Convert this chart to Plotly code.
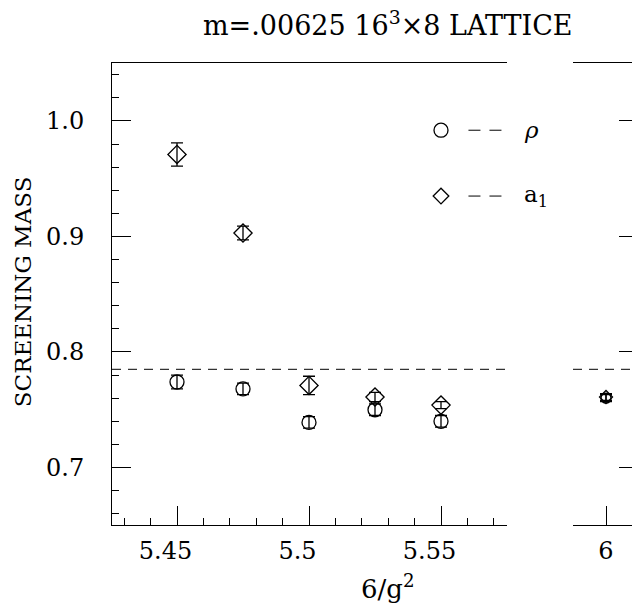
import plotly.graph_objects as go

# ---- data ----
beta = [5.45, 5.475, 5.5, 5.525, 5.55, 6.0]
rho_mass = [0.774, 0.768, 0.739, 0.750, 0.740, 0.760]
rho_err = [0.006, 0.005, 0.005, 0.005, 0.005, 0.003]
a1_mass = [0.971, 0.903, 0.771, 0.761, 0.754, 0.761]
a1_err = [0.010, 0.006, 0.008, 0.004, 0.003, 0.003]
ref_line = 0.785
title_text = "m=.00625 16<sup>3</sup>×8 LATTICE"
x_title = "6/g<sup>2</sup>"
y_title = "SCREENING MASS"
legend_names = ["<i>ρ</i>", "a<sub>1</sub>"]

FONT = "DejaVu Serif"
BREAK = 5.8
PLOT_W = 520.0  # plot area width in px (632 - 112)


def split(xs, ys, es, left=True):
    sel = [i for i, x in enumerate(xs) if (x < BREAK) == left]
    return [xs[i] for i in sel], [ys[i] for i in sel], [es[i] for i in sel]


fig = go.Figure()

for left in (True, False):
    xa = "x" if left else "x2"
    ya = "y" if left else "y2"
    csize = 14 if left else 10
    dsize = 14 if left else 10
    x, y, e = split(beta, rho_mass, rho_err, left)
    fig.add_trace(go.Scatter(
        x=x, y=y, xaxis=xa, yaxis=ya, mode="markers", showlegend=False,
        marker=dict(symbol="circle-open", size=csize, color="black", line=dict(width=1.3, color="black")),
        error_y=dict(type="data", array=e, color="black", thickness=1.3, width=6),
    ))
    x, y, e = split(beta, a1_mass, a1_err, left)
    fig.add_trace(go.Scatter(
        x=x, y=y, xaxis=xa, yaxis=ya, mode="markers", showlegend=False,
        marker=dict(symbol="diamond-open", size=dsize, color="black", line=dict(width=1.3, color="black")),
        error_y=dict(type="data", array=e, color="black", thickness=1.3, width=6),
    ))

# legend markers (drawn in data coordinates of the left panel)
leg_x = [5.55, 5.55]
leg_y = [0.992, 0.935]
fig.add_trace(go.Scatter(x=[leg_x[0]], y=[leg_y[0]], mode="markers", showlegend=False,
                         marker=dict(symbol="circle-open", size=14, color="black", line=dict(width=1.3))))
fig.add_trace(go.Scatter(x=[leg_x[1]], y=[leg_y[1]], mode="markers", showlegend=False,
                         marker=dict(symbol="diamond-open", size=12, color="black", line=dict(width=1.3))))

# dashed reference line on both panels
for xr, yr in (("x", "y"), ("x2", "y2")):
    fig.add_shape(type="line", xref=f"{xr} domain", yref=yr, x0=0, x1=1, y0=ref_line, y1=ref_line,
                  line=dict(color="black", width=1, dash="9px,7px"))

# legend dashes and labels
leg_text_x = [(522 - 112) / PLOT_W, (522 - 112) / PLOT_W]
for yv, name, tx in zip(leg_y, legend_names, leg_text_x):
    fig.add_shape(type="line", xref="x", yref="y", x0=5.5604, x1=5.5745, y0=yv, y1=yv,
                  line=dict(color="black", width=1, dash="12px,9px"))
    fig.add_annotation(x=tx, y=yv, xref="paper", yref="y", text=name, showarrow=False,
                       xanchor="left", yanchor="middle", font=dict(family=FONT, size=23, color="black"))

axis_common = dict(showgrid=False, zeroline=False, linecolor="black", linewidth=1,
                   ticks="inside", tickcolor="black", tickwidth=1,
                   tickfont=dict(family=FONT, size=24, color="black"))

NBSP = "\u00a0"

fig.update_layout(
    width=632, height=607,
    margin=dict(l=112, r=0, t=63, b=82),
    paper_bgcolor="white", plot_bgcolor="white",
    xaxis=dict(domain=[0, 395 / PLOT_W], range=[5.42538, 5.575], anchor="y",
               showline=True, mirror=True, tick0=5.45, dtick=0.05, ticklen=19,
               ticksuffix=NBSP * 3,
               minor=dict(dtick=0.01, ticklen=7, ticks="inside", tickcolor="black"),
               ticklabelstandoff=4, **axis_common),
    yaxis=dict(domain=[0, 1], range=[0.6502, 1.0502], anchor="x",
               showline=True, mirror=False, tick0=0.7, dtick=0.1, ticklen=19, tickformat=".1f",
               minor=dict(dtick=0.02, ticklen=7, ticks="inside", tickcolor="black"),
               ticklabelstandoff=22, **axis_common),
    xaxis2=dict(domain=[461 / PLOT_W, 1.0], range=[5.9875, 6.00985], anchor="y2",
                showline=True, mirror=True, tickvals=[6], ticktext=["6"], ticklen=19,
                ticklabelstandoff=4, **axis_common),
    yaxis2=dict(domain=[0, 1], range=[0.6502, 1.0502], anchor="x2", side="right",
                showline=False, tick0=0.7, dtick=0.1, ticklen=13, showticklabels=False,
                **axis_common),
)

center_x = (388 - 112) / PLOT_W
fig.add_annotation(text=title_text, xref="paper", yref="paper", x=center_x, y=1, yshift=40,
                   showarrow=False, xanchor="center", yanchor="middle",
                   font=dict(family=FONT, size=27, color="black"))
fig.add_annotation(text=x_title, xref="paper", yref="paper", x=center_x, y=0, yshift=-62,
                   showarrow=False, xanchor="center", yanchor="middle",
                   font=dict(family=FONT, size=26, color="black"))
fig.add_annotation(text=y_title, xref="paper", yref="paper", x=0, xshift=-89, y=0.504,
                   showarrow=False, xanchor="center", yanchor="middle", textangle=-90,
                   font=dict(family=FONT, size=23, color="black"))

fig.write_html("out.html")
